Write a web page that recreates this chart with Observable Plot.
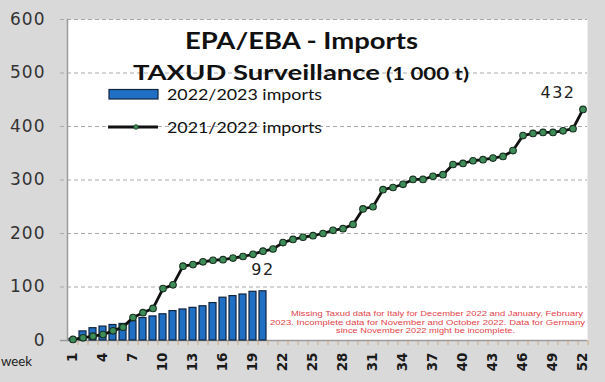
<!DOCTYPE html>
<html>
<head>
<meta charset="utf-8">
<script src="https://cdn.jsdelivr.net/npm/d3@7"></script>
<script src="https://cdn.jsdelivr.net/npm/@observablehq/plot@0.6"></script>
<style>
  html, body { margin: 0; padding: 0; background: #d9d9d9; }
  #wrap { position: relative; width: 605px; height: 382px; overflow: hidden; background: #d9d9d9; }
  #overlay { position: absolute; left: 0; top: 0; pointer-events: none; }
  g[aria-label="y-axis tick label"] text { letter-spacing: 1px; }
</style>
</head>
<body>
<div id="wrap"></div>
<script>
// ---- data ----
const weeks = d3.range(1, 53);
const weekTickLabels = [1, 4, 7, 10, 13, 16, 19, 22, 25, 28, 31, 34, 37, 40, 43, 46, 49, 52];
const yTickValues = [0, 100, 200, 300, 400, 500, 600];
const imports2022_23 = [3, 17, 23, 26, 29, 31, 36, 42, 45, 49, 55, 58, 61, 64, 70, 80, 83, 86, 91, 92];
const imports2021_22 = [2, 5, 8, 11, 18, 25, 43, 52, 60, 97,
  104, 139, 142, 147, 150, 151, 154, 157, 161, 167,
  171, 183, 189, 193, 196, 200, 206, 209, 217, 246,
  250, 282, 286, 292, 301, 301, 307, 310, 329, 331,
  336, 338, 341, 344, 355, 383, 387, 389, 389, 392,
  396, 432];
const seriesNames = ["2022/2023 imports", "2021/2022 imports"];
const titleLines = ["EPA/EBA - Imports", "TAXUD Surveillance", "(1 000 t)"];
const noteLines = [
  "Missing  Taxud  data for Italy for December  2022 and January, February",
  "2023. Incomplete data for November  and October 2022. Data for Germany",
  "since November  2022 might be incomplete."
];
const xAxisName = "week";

const bars = imports2022_23.map((v, i) => ({week: weeks[i], value: v}));
const line = imports2021_22.map((v, i) => ({week: weeks[i], value: v}));

const chart = Plot.plot({
  width: 605,
  height: 382,
  marginLeft: 67,
  marginRight: 18,
  marginTop: 19,
  marginBottom: 42,
  style: {background: "transparent", fontFamily: "DejaVu Sans", color: "#222"},
  x: {type: "band", domain: weeks, paddingInner: 0.35, paddingOuter: 0.175},
  y: {domain: [0, 600]},
  marks: [
    Plot.frame({fill: "white", stroke: null}),
    Plot.ruleY(yTickValues.filter(d => d > 0), {stroke: "#a9a9a9", strokeDasharray: "4,3", insetLeft: -7, insetRight: 0}),
    Plot.frame({anchor: "left", stroke: "#9c9c9c", strokeWidth: 1.5}),
    Plot.axisX({ticks: weeks, tickSize: 5, tickFormat: () => "", label: null, stroke: "#d2a97c", dx: 5}),
    Plot.ruleY([0], {stroke: "#9c9c9c", strokeWidth: 1.5, insetLeft: -7}),
    Plot.axisX({ticks: weekTickLabels, tickSize: 0, tickRotate: -90, tickPadding: 12, fontSize: 13.5, fontWeight: "bold", label: null, color: "#1a1a1a"}),
    Plot.axisY({ticks: yTickValues, tickSize: 0, tickPadding: 22, fontSize: 17, label: null, color: "#333"}),
    Plot.barY(bars, {x: "week", y: "value", fill: "#1f6fc5", stroke: "#10243d", strokeWidth: 1.2}),
    Plot.line(line, {x: "week", y: "value", stroke: "#111", strokeWidth: 2.8}),
    Plot.dot(line, {x: "week", y: "value", r: 3.3, fill: "#3e8d58", stroke: "#17301f", strokeWidth: 1.1}),
    Plot.text(bars.slice(-1), {x: "week", y: "value", text: d => String(d.value), dy: -21, fontSize: 16, fill: "#222"}),
    Plot.text(line.slice(-1), {x: "week", y: "value", text: d => String(d.value), dx: -25, dy: -17, fontSize: 16, fill: "#222"})
  ]
});
document.getElementById("wrap").appendChild(chart);
chart.querySelectorAll('g[aria-label="text"] text').forEach(t => t.setAttribute("letter-spacing", "1.5px"));

// ---- overlay: titles, legend, note ----
const NS = "http://www.w3.org/2000/svg";
const ov = document.createElementNS(NS, "svg");
ov.setAttribute("id", "overlay");
ov.setAttribute("width", 605);
ov.setAttribute("height", 382);
function txt(s, x, y, opts) {
  const t = document.createElementNS(NS, "text");
  t.textContent = s;
  t.setAttribute("x", x);
  t.setAttribute("y", y);
  for (const k in opts) t.setAttribute(k, opts[k]);
  ov.appendChild(t);
  return t;
}
function el(name, attrs) {
  const e = document.createElementNS(NS, name);
  for (const k in attrs) e.setAttribute(k, attrs[k]);
  ov.appendChild(e);
  return e;
}
txt(titleLines[0], 185, 49, {"font-family": "Lato", "font-weight": "bold", "font-size": 22.5, "fill": "#111", "textLength": 233, "lengthAdjust": "spacingAndGlyphs"});
txt(titleLines[1], 133, 79.5, {"font-family": "Lato", "font-weight": "bold", "font-size": 21.5, "fill": "#111", "textLength": 247, "lengthAdjust": "spacingAndGlyphs"});
txt(titleLines[2], 386, 79.5, {"font-family": "Lato", "font-weight": "bold", "font-size": 16.5, "fill": "#111", "textLength": 83, "lengthAdjust": "spacingAndGlyphs"});
// legend
el("rect", {x: 109, y: 89.5, width: 49, height: 9.5, fill: "#1f6fc5", stroke: "#10243d", "stroke-width": 1.2});
txt(seriesNames[0], 167, 100, {"font-family": "Lato", "font-size": 15.5, "fill": "#111", "textLength": 155, "lengthAdjust": "spacingAndGlyphs"});
el("line", {x1: 108, y1: 127, x2: 158, y2: 127, stroke: "#111", "stroke-width": 2.8});
el("circle", {cx: 136, cy: 127, r: 2.3, fill: "#3e8d58", stroke: "#1b3b25", "stroke-width": 0.8});
txt(seriesNames[1], 167, 132.5, {"font-family": "Lato", "font-size": 15.5, "fill": "#111", "textLength": 155, "lengthAdjust": "spacingAndGlyphs"});
// note
const noteSpecs = [[291, 316, 292], [270, 324.5, 315], [336, 333, 179]];
noteLines.forEach((s, i) => {
  const [x, y, w] = noteSpecs[i];
  txt(s, x, y, {"font-family": "Liberation Sans", "font-size": 7, "fill": "#e2444a", "textLength": w, "lengthAdjust": "spacingAndGlyphs"});
});
// axis name
txt(xAxisName, 1, 366, {"font-family": "Lato", "font-size": 14, "fill": "#222", "textLength": 31, "lengthAdjust": "spacingAndGlyphs"});
document.getElementById("wrap").appendChild(ov);
</script>
</body>
</html>
